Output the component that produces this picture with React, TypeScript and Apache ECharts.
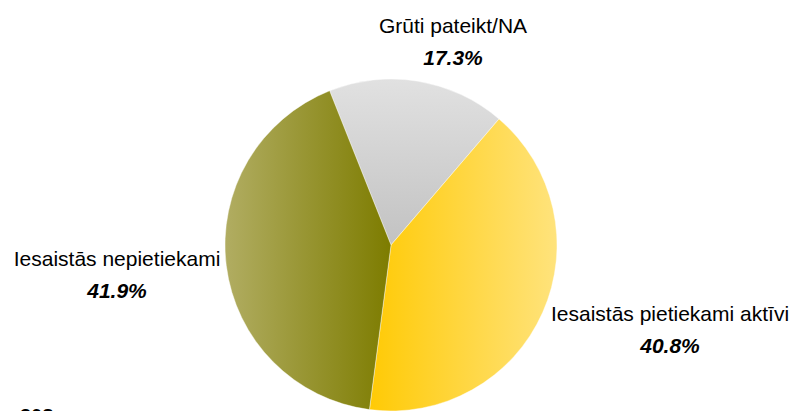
import React, { useEffect, useRef } from "react";
import * as echarts from "echarts";

const categories = ["Grūti pateikt/NA", "Iesaistās pietiekami aktīvi", "Iesaistās nepietiekami"];
const values = [17.3, 40.8, 41.9];
const footnote = "308";

const gradients = [
  { type: "linear", x: 0, y: 0, x2: 0, y2: 1, colorStops: [{ offset: 0, color: "#E1E1E1" }, { offset: 1, color: "#C2C2C2" }] },
  { type: "linear", x: 0, y: 0, x2: 1, y2: 0, colorStops: [{ offset: 0, color: "#FFCA05" }, { offset: 1, color: "#FFE37C" }] },
  { type: "linear", x: 0, y: 0, x2: 1, y2: 0, colorStops: [{ offset: 0, color: "#B1AD62" }, { offset: 1, color: "#7D7C00" }] },
];

const labelPos = [
  { x: 453, y: 41 },
  { x: 670, y: 329 },
  { x: 117, y: 274 },
];

export default function App() {
  const ref = useRef<HTMLDivElement>(null);
  useEffect(() => {
    if (!ref.current) return;
    const chart = echarts.init(ref.current, null, { renderer: "svg" });
    chart.setOption({
      animation: false,
      backgroundColor: "#ffffff",
      textStyle: { fontFamily: "Liberation Sans, Arial, sans-serif" },
      graphic: [
        {
          type: "text",
          left: 20,
          top: 406,
          style: { text: footnote, font: "normal bold 20px 'Liberation Sans', Arial, sans-serif", fill: "#000" },
        },
      ],
      series: [
        {
          type: "pie",
          center: [391, 245],
          radius: 166,
          startAngle: 111.7,
          clockwise: true,
          avoidLabelOverlap: false,
          itemStyle: { borderColor: "rgba(255,255,255,0.7)", borderWidth: 0.6 },
          labelLine: { show: false },
          label: {
            show: true,
            position: "outside",
            formatter: (p: any) => `{n|${p.name}}\n{v|${p.value.toFixed(1)}%}`,
            rich: {
              n: { fontSize: 21, lineHeight: 32, color: "#000", fontFamily: "Liberation Sans, Arial, sans-serif", align: "center" },
              v: { fontSize: 21, lineHeight: 32, color: "#000", fontWeight: "bold", fontStyle: "italic", fontFamily: "Liberation Sans, Arial, sans-serif", align: "center" },
            },
          },
          labelLayout: (params: any) => ({
            x: labelPos[params.dataIndex].x,
            y: labelPos[params.dataIndex].y,
            align: "center",
            verticalAlign: "middle",
          }),
          data: categories.map((name, i) => ({ name, value: values[i], itemStyle: { color: gradients[i] } })),
        },
      ],
    });
    return () => chart.dispose();
  }, []);
  return <div ref={ref} style={{ position: "absolute", left: 0, top: 0, width: 792, height: 411 }} />;
}
